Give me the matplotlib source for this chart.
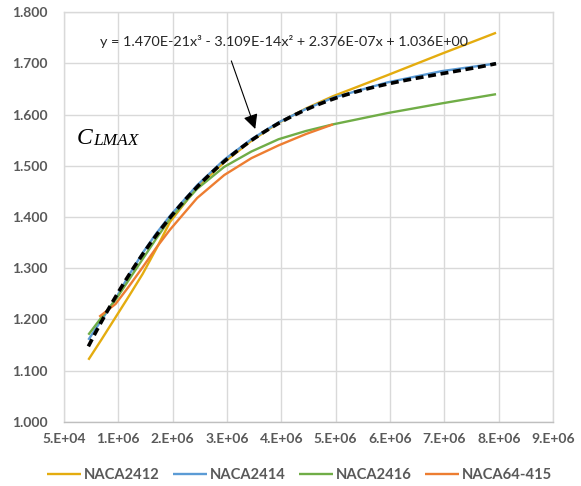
import numpy as np
import matplotlib
import matplotlib.pyplot as plt
from matplotlib.ticker import FuncFormatter, FixedLocator

matplotlib.use("Agg")

# Reynolds number and CLmax for each airfoil
re_main = [0.5e6, 0.75e6, 1.0e6, 1.25e6, 1.5e6, 1.75e6, 2.0e6, 2.5e6, 3.0e6,
           3.5e6, 4.0e6, 4.5e6, 5.0e6, 6.0e6, 7.0e6, 8.0e6]
naca2412 = [1.121, 1.162, 1.204, 1.246, 1.289, 1.338, 1.390, 1.458, 1.507,
            1.549, 1.584, 1.612, 1.636, 1.677, 1.719, 1.760]
naca2414 = [1.160, 1.200, 1.240, 1.287, 1.330, 1.368, 1.402, 1.462, 1.512,
            1.552, 1.585, 1.611, 1.633, 1.663, 1.685, 1.700]
naca2416 = [1.170, 1.205, 1.238, 1.278, 1.318, 1.358, 1.396, 1.455, 1.498,
            1.528, 1.552, 1.568, 1.581, 1.603, 1.622, 1.640]

re_64 = [0.7e6, 1.0e6, 1.25e6, 1.5e6, 1.75e6, 2.0e6, 2.5e6, 3.0e6, 3.5e6,
         4.0e6, 4.5e6, 5.0e6]
naca64_415 = [1.205, 1.230, 1.265, 1.302, 1.340, 1.375, 1.437, 1.482, 1.515,
              1.540, 1.562, 1.581]

# cubic trendline of NACA2414 (coefficients as printed on the chart)
trend_coef = [1.470e-21, -3.109e-14, 2.376e-07, 1.036e+00]
trend_label = "y = 1.470E-21x³ - 3.109E-14x² + 2.376E-07x + 1.036E+00"

series = [
    ("NACA2412", re_main, naca2412, "#E4AC0F"),
    ("NACA2414", re_main, naca2414, "#5B9BD5"),
    ("NACA2416", re_main, naca2416, "#70AD47"),
    ("NACA64-415", re_64, naca64_415, "#ED7D31"),
]

TICK_GRAY = "#595959"
GRID = "#D9D9D9"

fig = plt.figure(figsize=(5.81, 4.86), dpi=100)
ax = fig.add_axes([0.110, 0.1323, 0.842, 0.8424])

for name, x, y, color in series:
    ax.plot(x, y, color=color, lw=1.7, label=name, solid_capstyle="butt",
            solid_joinstyle="round")

xt = np.linspace(re_main[0], re_main[-1], 200)
ax.plot(xt, np.polyval(trend_coef, xt), color="black", lw=2.6,
        linestyle=(0, (2.2, 1.3)), zorder=5)

ax.set_xlim(0.05e6, 9.05e6)
ax.set_ylim(1.0, 1.8)
ax.xaxis.set_major_locator(FixedLocator(np.arange(0.05e6, 9.06e6, 1e6)))
ax.yaxis.set_major_locator(FixedLocator(np.arange(1.0, 1.801, 0.1)))
ax.xaxis.set_major_formatter(FuncFormatter(lambda v, p: "{:#.0E}".format(v)))
ax.yaxis.set_major_formatter(FuncFormatter(lambda v, p: f"{v:.3f}"))

ax.grid(True, color=GRID, lw=1.0)
ax.set_axisbelow(True)
for s in ax.spines.values():
    s.set_color(GRID)
    s.set_linewidth(1.0)
ax.spines["bottom"].set_color("#BFBFBF")

ax.tick_params(length=0, colors=TICK_GRAY, labelsize=10)
ax.tick_params(axis="y", pad=12)
ax.tick_params(axis="x", pad=8)
for lbl in ax.get_xticklabels() + ax.get_yticklabels():
    lbl.set_fontfamily("Lato")
    lbl.set_fontweight("bold")

# trendline equation and arrow
ax.text(0.0745, 0.9295, trend_label, transform=ax.transAxes, ha="left",
        va="center", fontsize=10.4, color="#262626", family="Lato")
ax.annotate("", xy=(3.57e6, 1.572), xytext=(3.13e6, 1.705),
            arrowprops=dict(arrowstyle="-|>", color="black", lw=0.8,
                            mutation_scale=22, shrinkA=0, shrinkB=0),
            zorder=6)

# CLMAX label
c_txt = ax.text(0.026, 0.678, "C", transform=ax.transAxes, ha="left",
                va="baseline", fontsize=17, style="italic",
                family="Liberation Serif", color="black")
ax.annotate("LMAX", xy=(1, 0), xycoords=c_txt, xytext=(0.3, 0),
            textcoords="offset points", ha="left", va="bottom",
            fontsize=12.5, style="italic", family="Liberation Serif",
            color="black")

fig.legend(loc="center", bbox_to_anchor=(0.516, 0.023), ncol=4,
           frameon=False, handlelength=2.3, handletextpad=0.2,
           columnspacing=0.9, prop=dict(family="Lato", weight="bold", size=10.6),
           labelcolor=TICK_GRAY)

fig.savefig("out.png", dpi=100)
plt.close(fig)
